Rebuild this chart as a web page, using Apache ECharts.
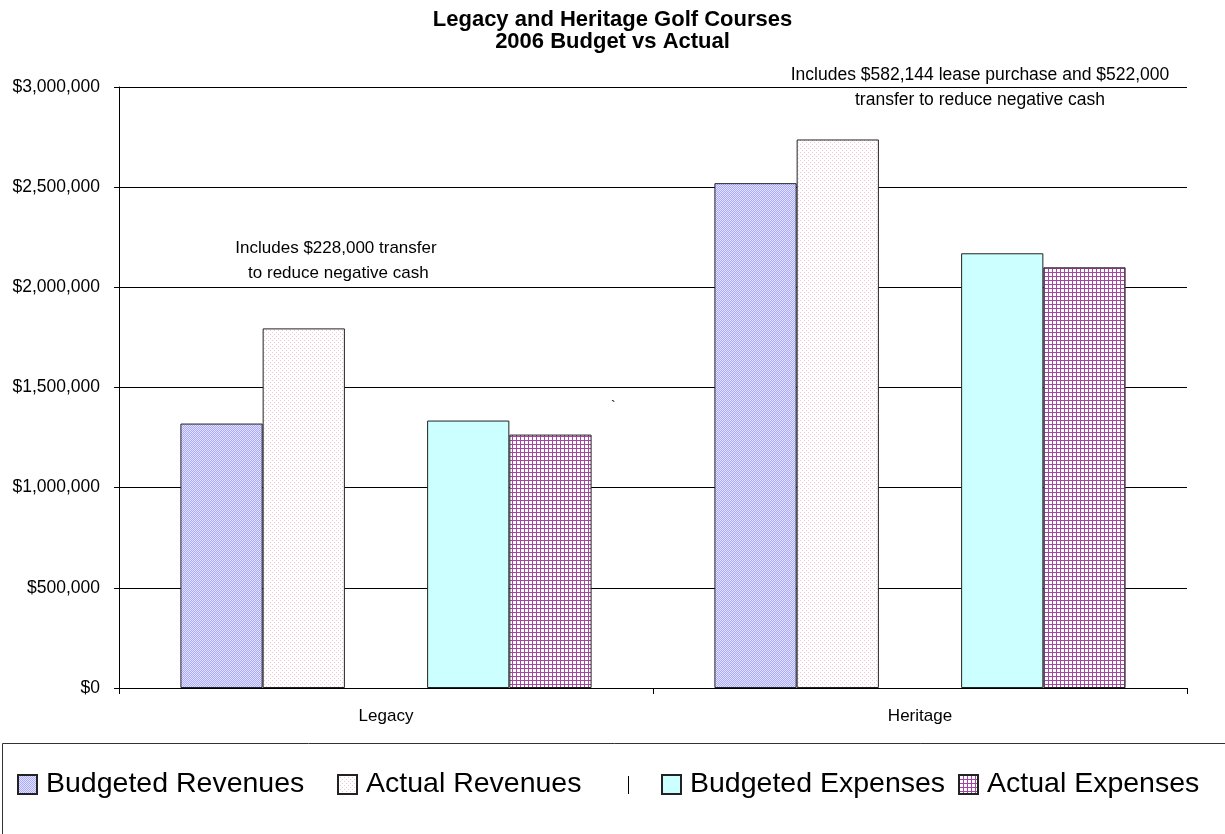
<!DOCTYPE html>
<html>
<head>
<meta charset="utf-8">
<script src="https://cdn.jsdelivr.net/npm/echarts@6/dist/echarts.min.js"></script>
<style>
html,body{margin:0;padding:0;background:#fff;}
#chart{width:1225px;height:834px;}
</style>
</head>
<body>
<div id="chart"></div>
<script>
// ---- data ----
const categories = ['Legacy', 'Heritage'];
const budgetedRevenues = [1320000, 2520000];
const actualRevenues = [1795000, 2738000];
const spacerSeries = [null, null];
const budgetedExpenses = [1335000, 2170000];
const actualExpenses = [1265000, 2100000];
const seriesNames = ['Budgeted Revenues', 'Actual Revenues', ' ', 'Budgeted Expenses', 'Actual Expenses'];
const yTicks = [0, 500000, 1000000, 1500000, 2000000, 2500000, 3000000];
const titleLines = ['Legacy and Heritage Golf Courses', '2006 Budget vs Actual'];
const noteLegacy = ['Includes $228,000 transfer', ' to reduce negative cash'];
const noteHeritage = ['Includes $582,144 lease purchase and $522,000', 'transfer to reduce negative cash'];

// ---- patterns ----
function makePattern(size, bg, draw) {
  const c = document.createElement('canvas');
  c.width = size; c.height = size;
  const ctx = c.getContext('2d');
  ctx.fillStyle = bg; ctx.fillRect(0, 0, size, size);
  draw(ctx);
  return { image: c, repeat: 'repeat' };
}
const diagPattern = makePattern(4, '#e4e4ff', ctx => {
  ctx.fillStyle = '#a9a9ff';
  for (let i = 0; i < 4; i++) { ctx.fillRect(i, 3 - i, 1, 1); ctx.fillRect(i, (5 - i) % 4, 1, 1); }
});
const dotPattern = makePattern(4, '#ffffff', ctx => {
  ctx.fillStyle = '#efc4d4';
  ctx.fillRect(0, 0, 1, 1); ctx.fillRect(2, 2, 1, 1);
});
const gridPattern = makePattern(4, '#ffffff', ctx => {
  ctx.fillStyle = '#a347a3';
  ctx.fillRect(0, 0, 4, 1); ctx.fillRect(0, 0, 1, 4);
});

const FONT = 'Liberation Sans, Arial, sans-serif';
const chart = echarts.init(document.getElementById('chart'), null, { renderer: 'canvas' });

function barSeries(name, data, color) {
  return {
    name, type: 'bar', data,
    barGap: '0%', barCategoryGap: '23%',
    itemStyle: { color, borderColor: '#222', borderWidth: 1 },
    emphasis: { disabled: true },
    animation: false
  };
}

function legendAt(left, name) {
  return {
    left, top: 770, orient: 'horizontal', padding: 0,
    itemWidth: 19, itemHeight: 19, icon: 'rect',
    selectedMode: false,
    data: [name],
    textStyle: { fontSize: 28.5, color: '#000', fontFamily: FONT, padding: [0, 0, 0, 4] }
  };
}

const option = {
  backgroundColor: '#fff',
  animation: false,
  title: {
    text: titleLines.join('\n'),
    left: 'center', top: 4,
    textStyle: { fontSize: 22, fontWeight: 'bold', color: '#000', fontFamily: FONT, lineHeight: 22 }
  },
  grid: { left: 119, right: 38, top: 87, bottom: 146, containLabel: false },
  xAxis: {
    type: 'category', data: categories,
    axisLine: { lineStyle: { color: '#000', width: 1 } },
    axisTick: { show: true, length: 6, alignWithLabel: false, lineStyle: { color: '#000' } },
    axisLabel: { fontSize: 17, color: '#000', fontFamily: FONT, margin: 20 }
  },
  yAxis: {
    type: 'value', min: 0, max: 3000000, interval: 500000,
    axisLine: { show: true, lineStyle: { color: '#000', width: 1 } },
    axisTick: { show: true, length: 5, lineStyle: { color: '#000' } },
    splitLine: { show: true, lineStyle: { color: '#000', width: 1 } },
    axisLabel: {
      fontSize: 17.5, color: '#000', fontFamily: FONT, margin: 19,
      formatter: v => yTicks.indexOf(v) >= 0 ? '$' + v.toLocaleString('en-US') : ''
    }
  },
  legend: [
    legendAt(17, seriesNames[0]),
    legendAt(337, seriesNames[1]),
    legendAt(619, { name: seriesNames[2], icon: 'path://M0,0 M9,1 L10,1 L10,19 L9,19 Z M19,19', itemStyle: { color: '#000', borderWidth: 0 } }),
    legendAt(661, seriesNames[3]),
    legendAt(958, seriesNames[4])
  ],
  series: [
    barSeries(seriesNames[0], budgetedRevenues, diagPattern),
    barSeries(seriesNames[1], actualRevenues, dotPattern),
    barSeries(seriesNames[2], spacerSeries, 'rgba(0,0,0,0)'),
    barSeries(seriesNames[3], budgetedExpenses, '#ccffff'),
    barSeries(seriesNames[4], actualExpenses, gridPattern)
  ],
  graphic: [
    { type: 'rect', silent: true, shape: { x: 2.5, y: 743.5, width: 1400, height: 300 },
      style: { fill: 'none', stroke: '#333', lineWidth: 1 } },
    { type: 'text', silent: true, x: 336, y: 236,
      style: { text: noteLegacy.join('\n'), fill: '#000', font: '17px ' + FONT, textAlign: 'center', lineHeight: 25 } },
    { type: 'text', silent: true, x: 980, y: 63,
      style: { text: noteHeritage.join('\n'), fill: '#000', font: '17.5px ' + FONT, textAlign: 'center', lineHeight: 25 } },
    { type: 'text', silent: true, x: 611, y: 400,
      style: { text: '`', fill: '#000', font: '14px ' + FONT } }
  ]
};
chart.setOption(option);
</script>
</body>
</html>
